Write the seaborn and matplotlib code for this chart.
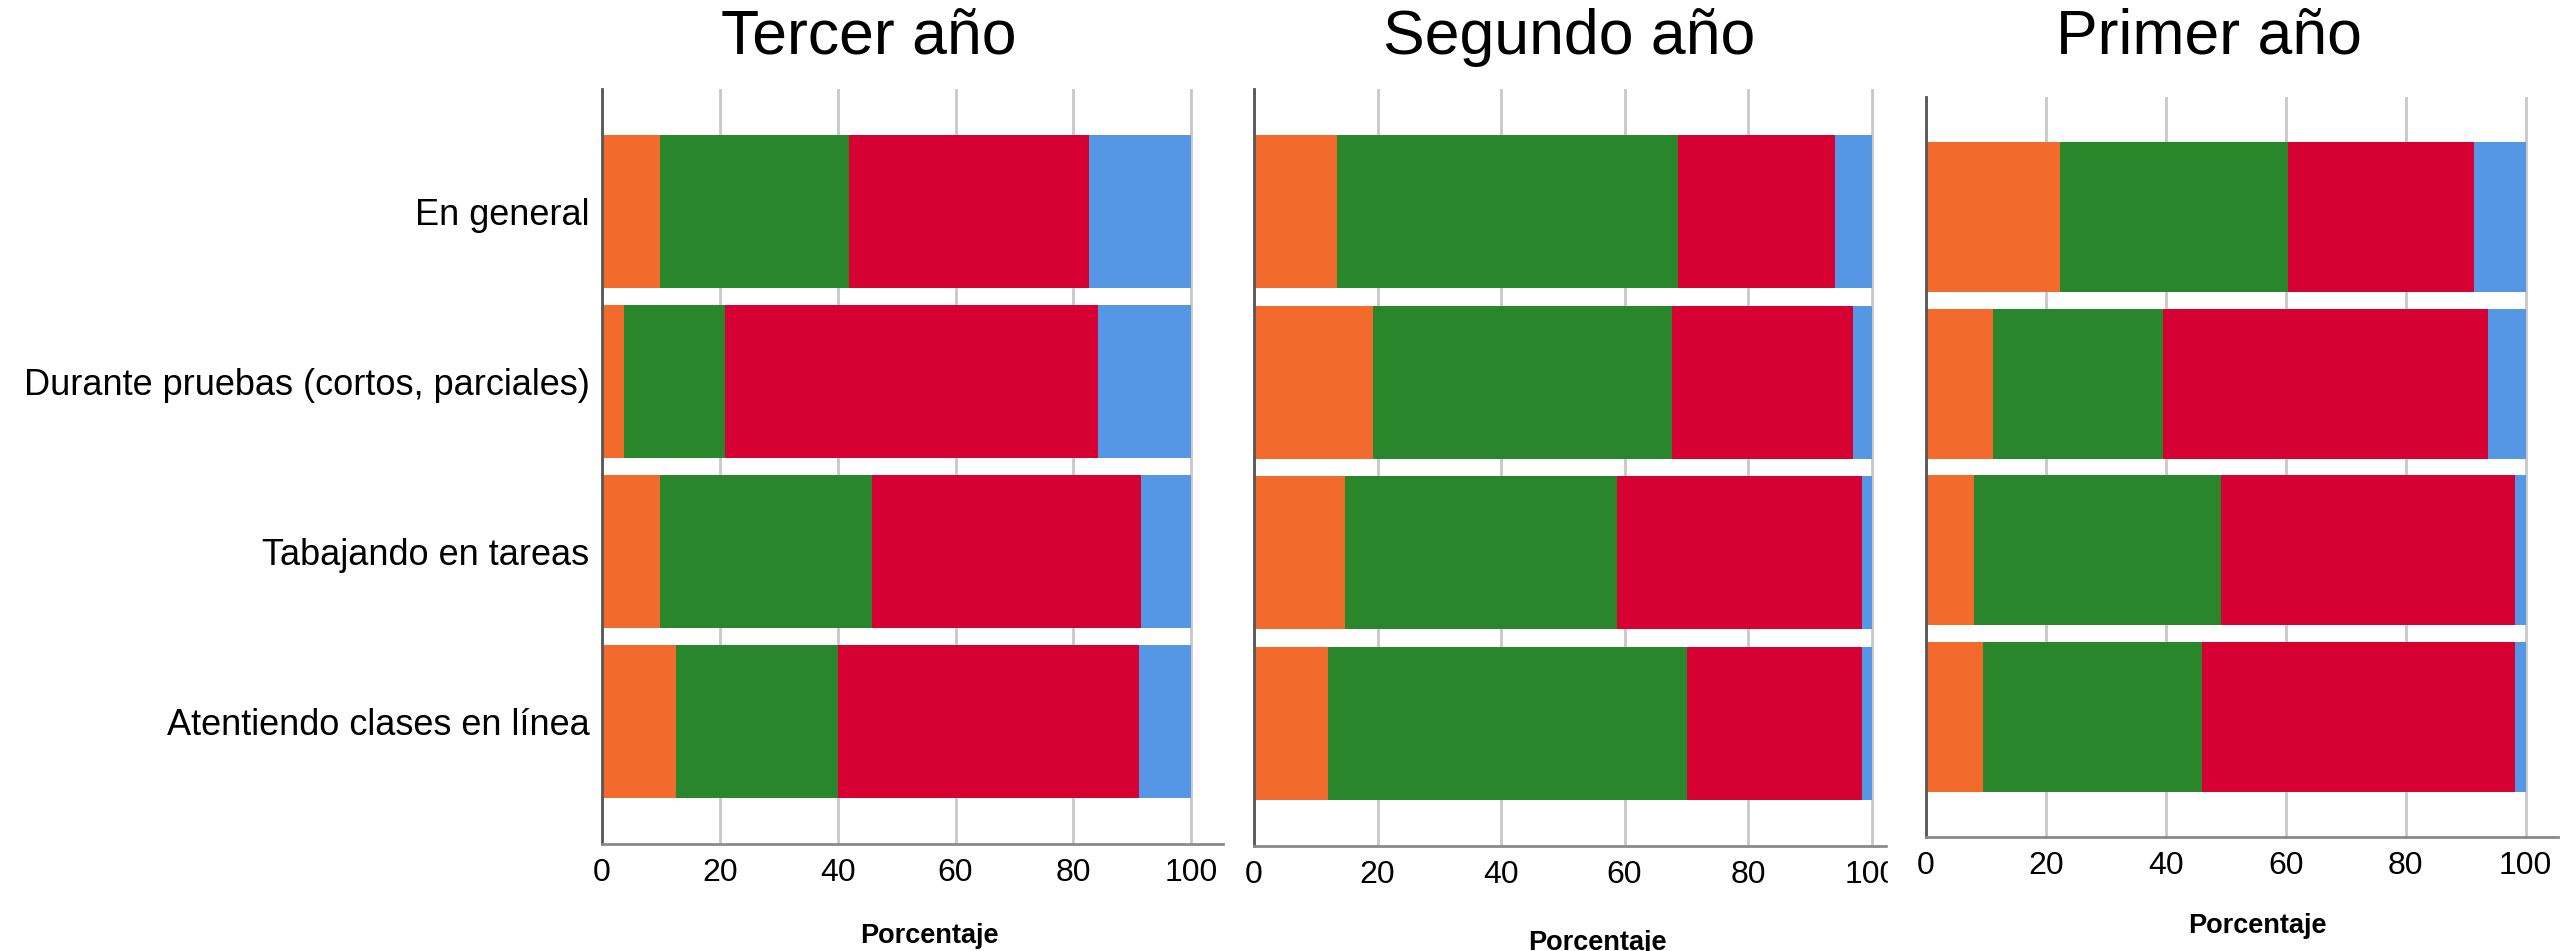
import numpy as np
import pandas as pd
import seaborn as sns
import matplotlib.pyplot as plt
from matplotlib.patches import Rectangle

# categorias (eje y)
categorias = ['En general', 'Durante pruebas (cortos, parciales)',
              'Tabajando en tareas', 'Atentiendo clases en línea']
titulos = ['Tercer año', 'Segundo año', 'Primer año']

# porcentajes por segmento (naranja, verde, rojo, azul)
tercer_naranja = [9.9, 3.8, 9.9, 12.6]
tercer_verde = [32.1, 17.0, 35.9, 27.5]
tercer_rojo = [40.7, 63.3, 45.6, 51.0]
tercer_azul = [17.3, 15.9, 8.6, 8.9]

segundo_naranja = [13.5, 19.2, 14.7, 12.0]
segundo_verde = [55.1, 48.4, 44.1, 58.1]
segundo_rojo = [25.4, 29.4, 39.7, 28.4]
segundo_azul = [6.0, 3.0, 1.5, 1.5]

primer_naranja = [22.3, 11.2, 8.0, 9.5]
primer_verde = [38.1, 28.4, 41.2, 36.5]
primer_rojo = [31.0, 54.1, 49.1, 52.3]
primer_azul = [8.6, 6.3, 1.7, 1.7]

colores = ['#F26B2D', '#2A862B', '#D60033', '#5597E4']

sns.set_theme(style='white')
plt.rcParams['font.family'] = ['Liberation Sans', 'DejaVu Sans']
plt.rcParams['text.color'] = 'black'

W, H = 2560, 951
fig = plt.figure(figsize=(25.6, 9.51), dpi=100)


def box(l, r, t, b):
    return [l / W, 1 - b / H, (r - l) / W, (b - t) / H]


def draw(ax, naranja, verde, rojo, azul):
    df = pd.DataFrame({'cat': categorias, 'naranja': naranja, 'verde': verde,
                       'rojo': rojo, 'azul': azul})
    cols = ['naranja', 'verde', 'rojo', 'azul']
    acum = df[cols].cumsum(axis=1)
    # draw longest (cumulative) first so shorter ones sit on top
    for col, c in reversed(list(zip(cols, colores))):
        sns.barplot(x=acum[col], y=df['cat'], order=categorias, orient='h',
                    color=c, saturation=1, width=0.9, linewidth=0, ax=ax)
    ax.set_xlim(0, 105.4)
    ax.set_ylim(3.72, -0.72)
    ax.set_xticks(range(0, 101, 20))
    ax.set_axisbelow(True)
    ax.grid(axis='x', color='#c8c8c8', lw=2)
    ax.grid(axis='y', visible=False)
    for s in ['top', 'right']:
        ax.spines[s].set_visible(False)
    ax.spines['left'].set_color('#555555')
    ax.spines['left'].set_linewidth(2)
    ax.spines['bottom'].set_color('#8a8a8a')
    ax.spines['bottom'].set_linewidth(2)
    ax.tick_params(axis='x', length=0, pad=10, labelsize=23, labelcolor='black')
    ax.tick_params(axis='y', length=0, pad=9, labelsize=26, labelcolor='black')
    ax.set_ylabel('')
    ax.set_xlabel('Porcentaje', fontsize=19.5, weight='bold', color='black')
    ax.xaxis.label.set_va('center')


ax1 = fig.add_axes(box(602, 1223, 89, 844))
ax2 = fig.add_axes(box(1254, 1905, 89, 846))
ax3 = fig.add_axes(box(1926, 2558, 97, 837))
ax3.set_zorder(1)

draw(ax1, tercer_naranja, tercer_verde, tercer_rojo, tercer_azul)
draw(ax2, segundo_naranja, segundo_verde, segundo_rojo, segundo_azul)
draw(ax3, primer_naranja, primer_verde, primer_rojo, primer_azul)

ax2.set_yticklabels([])
ax3.set_yticklabels([])

ax1.xaxis.set_label_coords(0.527, -0.122)
ax2.xaxis.set_label_coords(0.527, -0.128)
ax3.xaxis.set_label_coords(0.525, -0.120)

# panel 3 screenshot covers the end of panel 2's axis
fig.add_artist(Rectangle((1888 / W, 0), 32 / W, 1, transform=fig.transFigure,
                         color='white', zorder=0.5))

for x, t in zip([869, 1569, 2209], titulos):
    fig.text(x / W, 1 - 54 / H, t, ha='center', va='baseline', fontsize=45,
             color='black')

fig.savefig('out.png', dpi=100, facecolor='white')
